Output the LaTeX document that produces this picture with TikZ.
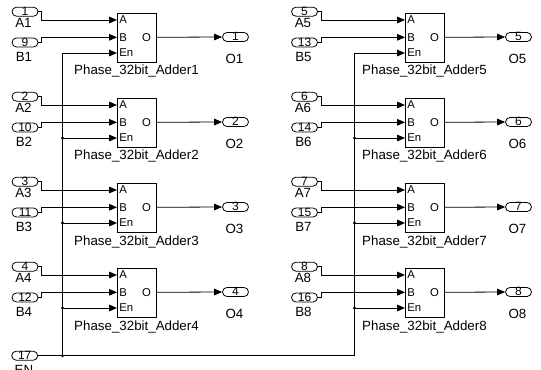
\documentclass[tikz,border=0pt]{standalone}
\usepackage{fontspec}
\setmainfont{Liberation Sans}
\usetikzlibrary{arrows.meta,shapes.misc}
\begin{document}
\begin{tikzpicture}[x=0.75pt,y=-0.75pt,
  inport/.style={draw,line width=0.6pt,rounded rectangle,minimum width=19.5pt,minimum height=6.8pt,
    inner sep=0pt,font=\fontsize{9}{9}\selectfont,text height=5.8pt,text depth=0pt},
  blockbox/.style={draw,line width=0.6pt,minimum width=29.25pt,minimum height=36.75pt,inner sep=0pt},
  wire/.style={draw,line width=0.6pt},
  arr/.style={-{Triangle[length=6pt,width=5pt]}},
  lbl/.style={inner sep=0pt,font=\fontsize{10}{10}\selectfont},
  plbl/.style={inner sep=0pt,font=\fontsize{8.5}{8.5}\selectfont},
  jdot/.style={circle,fill,inner sep=0pt,minimum size=2.4pt}]
\useasboundingbox (0,0) rectangle (541,370);
\foreach \c/\inx/\bx/\bl/\ox in {0/25/62.5/117/235.5, 1/304.5/354.5/405/518.5} {
  \coordinate (busTop\c) at (\bx,53);
  \coordinate (busBot\c) at (\bx,355.7);
  \draw[wire] (busTop\c) -- (busBot\c);
  \foreach \r in {0,...,3} {
    \pgfmathtruncatemacro{\k}{\r+1+4*\c}
    \pgfmathtruncatemacro{\nb}{\k+8}
    \pgfmathsetmacro{\yo}{85*\r}
    % inports
    \node[inport] (inA\k) at (\inx,11.7+\yo) {\k};
    \node[lbl] (labA\k) at (\inx-1.5,23+\yo) {A\k};
    \node[inport] (inB\k) at (\inx,42.5+\yo) {\nb};
    \node[lbl] (labB\k) at (\inx-1,57+\yo) {B\k};
    % block
    \node[blockbox] (blk\k) at (\bl+19.5,37.5+\yo) {};
    \coordinate (blk\k-A) at (\bl,20+\yo);
    \coordinate (blk\k-B) at (\bl,37.3+\yo);
    \coordinate (blk\k-En) at (\bl,53+\yo);
    \coordinate (blk\k-O) at (\bl+39,37.3+\yo);
    \node[plbl,anchor=west] (pA\k) at (\bl+2,20+\yo) {A};
    \node[plbl,anchor=west] (pB\k) at (\bl+2,37.3+\yo) {B};
    \node[plbl,anchor=west] (pEn\k) at (\bl+2,53+\yo) {En};
    \node[plbl] (pO\k) at (\bl+29.5,37.3+\yo) {O};
    \node[lbl,anchor=base] (name\k) at (\bl+19.5,75+\yo) {Phase\_32bit\_Adder\k};
    % outport
    \node[inport] (out\k) at (\ox,37+\yo) {\k};
    \node[lbl] (labO\k) at (\ox-1,59+\yo) {O\k};
    % wires
    \draw[wire,arr] (inA\k.east) -- ++(3,0) |- (blk\k-A);
    \draw[wire,arr] (inB\k.east) -- ++(3,0) |- (blk\k-B);
    \coordinate (j\k) at (\bx,53+\yo);
    \draw[wire,arr] (j\k) -- (blk\k-En);
    \draw[wire,arr] (blk\k-O) -- (out\k.west);
    \ifnum\r>0 \node[jdot] at (j\k) {}; \fi
  }
}
\node[inport] (in17) at (24.7,355.7) {17};
\node[lbl,anchor=north] (labEN) at (24,365) {EN};
\draw[wire] (in17.east) -- (busBot1);
\node[jdot] at (busBot0) {};
\end{tikzpicture}
\end{document}
